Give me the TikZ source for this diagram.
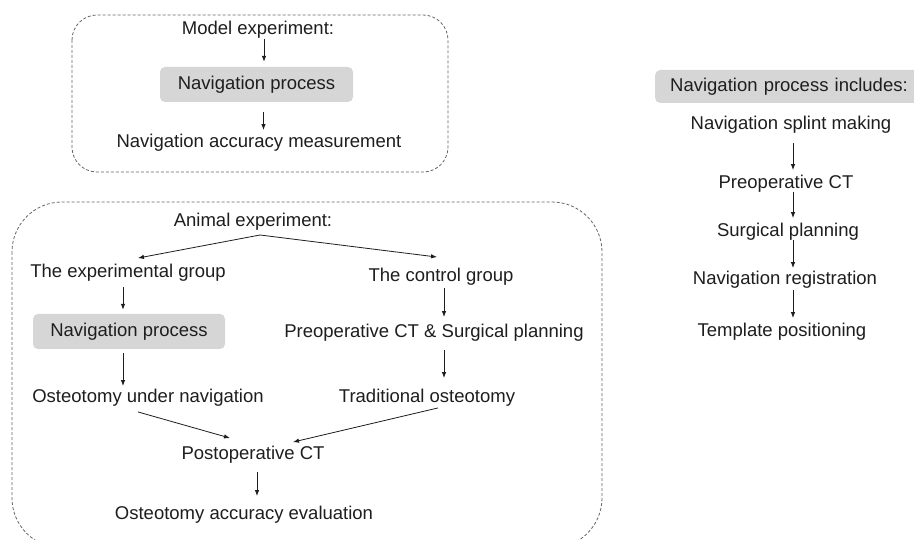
\documentclass[tikz,border=0pt]{standalone}
\usepackage{fontspec}
\setmainfont{Liberation Sans}
\usetikzlibrary{arrows.meta}
\definecolor{boxgray}{HTML}{D6D6D6}
\definecolor{txt}{HTML}{1E1E1E}
\definecolor{dashc}{HTML}{666666}
\tikzset{
  lbl/.style={font=\fontsize{18.5}{20}\selectfont, text=txt, inner sep=0pt, text height=13.5pt, text depth=4pt},
  graybox/.style={lbl, fill=boxgray, rounded corners=5pt},
  arr/.style={draw=txt, line width=0.8pt, -{Latex[length=6pt,width=4.5pt]}},
  dashbox/.style={draw=dashc, line width=0.8pt, dash pattern=on 3pt off 2pt},
}
\begin{document}
\begin{tikzpicture}[x=1pt,y=-1pt]
\clip (0,0) rectangle (914,540);
\fill[white] (0,0) rectangle (914,540);
% dashed frames
\draw[dashbox, rounded corners=25pt] (72,15) rectangle (448,172);
\draw[dashbox, rounded corners=50pt] (12,202) rectangle (602,548);
% model experiment
\node[lbl] (model) at (258,30) {Model experiment:};
\node[graybox, minimum width=193pt, minimum height=35pt] (nav1) at (256.5,84.5) {Navigation process};
\node[lbl] (acc) at (259,143) {Navigation accuracy measurement};
\draw[arr, shorten >=5pt] ([xshift=6pt]model.south) -- ([xshift=6pt]model.south |- nav1.north);
\draw[arr, shorten <=10pt, shorten >=4pt] ([xshift=7pt]nav1.south) -- ([xshift=7pt]nav1.south |- acc.north);
% animal experiment
\node[lbl] (animal) at (253,222) {Animal experiment:};
\node[lbl] (exp) at (128,273) {The experimental group};
\node[lbl] (ctrl) at (441,277) {The control group};
\node[graybox, minimum width=192pt, minimum height=35pt] (nav2) at (129,331.5) {Navigation process};
\node[lbl] (preop) at (434,333) {Preoperative CT \& Surgical planning};
\node[lbl] (under) at (148,398) {Osteotomy under navigation};
\node[lbl] (trad) at (427,398) {Traditional osteotomy};
\node[lbl] (post) at (253,455) {Postoperative CT};
\node[lbl] (eval) at (244,515) {Osteotomy accuracy evaluation};
\coordinate (split) at (260,235);
\draw[arr] (split) -- ([xshift=10pt,yshift=6pt]exp.north);
\draw[arr] (split) -- ([xshift=-4pt,yshift=11pt]ctrl.north);
\draw[arr, shorten <=5pt, shorten >=4pt] ([xshift=-5pt]exp.south) -- ([xshift=-5pt]exp.south |- nav2.north);
\draw[arr, shorten <=4pt, shorten >=3pt] ([xshift=-6pt]nav2.south) -- ([xshift=-6pt]nav2.south |- under.north);
\draw[arr] ([xshift=-10pt,yshift=-5pt]under.south) -- ([xshift=-23pt,yshift=8pt]post.north);
\draw[arr, shorten <=2pt, shorten >=7pt] ([xshift=3pt]ctrl.south) -- ([xshift=3pt]ctrl.south |- preop.north);
\draw[arr, shorten <=8pt, shorten >=11pt] ([xshift=10pt]preop.south) -- ([xshift=10pt]preop.south |- trad.north);
\draw[arr] ([xshift=11pt,yshift=-1pt]trad.south) -- ([xshift=40pt,yshift=4pt]post.north);
\draw[arr, shorten <=8pt, shorten >=10pt] ([xshift=4pt]post.south) -- ([xshift=4pt]post.south |- eval.north);
% navigation process includes
\node[graybox, minimum height=33pt, anchor=west, text width=300pt, inner xsep=15pt] (inc) at (655,86.5) {Navigation process includes:};
\node[lbl] (splint) at (791,125) {Navigation splint making};
\node[lbl] (ct) at (786,184) {Preoperative CT};
\node[lbl] (plan) at (788,232) {Surgical planning};
\node[lbl] (reg) at (785,280) {Navigation registration};
\node[lbl] (tmpl) at (782,332) {Template positioning};
\draw[arr, shorten <=9pt, shorten >=5pt] ([xshift=2pt]splint.south) -- ([xshift=2pt]splint.south |- ct.north);
\draw[arr, shorten <=-1pt, shorten >=5pt] ([xshift=7pt]ct.south) -- ([xshift=7pt]ct.south |- plan.north);
\draw[arr, shorten <=-1pt, shorten >=3pt] ([xshift=5pt]plan.south) -- ([xshift=5pt]plan.south |- reg.north);
\draw[arr, shorten <=1pt, shorten >=5pt] ([xshift=8pt]reg.south) -- ([xshift=8pt]reg.south |- tmpl.north);
\end{tikzpicture}
\end{document}
